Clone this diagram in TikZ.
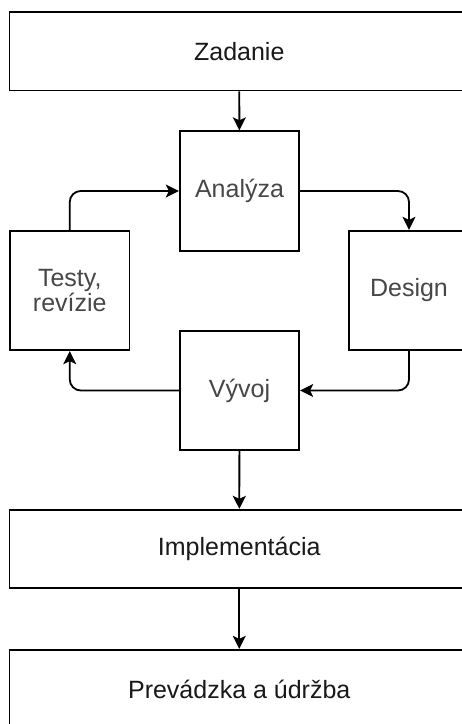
\documentclass[tikz,border=0pt]{standalone}
\usepackage{fontspec}
\setmainfont{Liberation Sans}
\usetikzlibrary{arrows.meta}
\begin{document}
\begin{tikzpicture}[x=1pt,y=-1pt,
  box/.style={draw=black, line width=1.8pt, fill=white, inner sep=0pt,
    font=\fontsize{25}{25}\selectfont, align=center},
  wide/.style={box, minimum width=459.5pt, minimum height=78.5pt, text=black!90},
  sq/.style={box, minimum width=119.5pt, minimum height=119.5pt, text=black!72},
  conn/.style={draw=black, line width=1.8pt, rounded corners=11pt,
    -{Stealth[length=13pt,width=13pt,inset=3pt]}}
]
\useasboundingbox (0,0) rectangle (462,724);
\clip (0,0) rectangle (462,724);

% phase boxes
\node[wide] (zad)  at (239.25,51.25) {Zadanie};
\node[sq]   (ana)  at (239.5,191)    {Analýza};
\node[sq]   (tes)  at (69.75,290.5)  {Testy,\\revízie};
\node[sq]   (des)  at (409,290.5)    {Design};
\node[sq]   (vyv)  at (239.5,390.5)  {Vývoj};
\node[wide] (imp)  at (239.25,549)   {Implementácia};
\node[wide] (prev) at (239.25,689)   {Prevádzka a údržba};

% main flow
\draw[conn] (zad) -- (ana);
\draw[conn] (vyv) -- (imp);
\draw[conn] (imp) -- (prev);

% iteration cycle
\draw[conn] (ana.east) -| (des.north);
\draw[conn] (des.south) |- (vyv.east);
\draw[conn] (vyv.west) -| (tes.south);
\draw[conn] (tes.north) |- (ana.west);
\end{tikzpicture}
\end{document}
